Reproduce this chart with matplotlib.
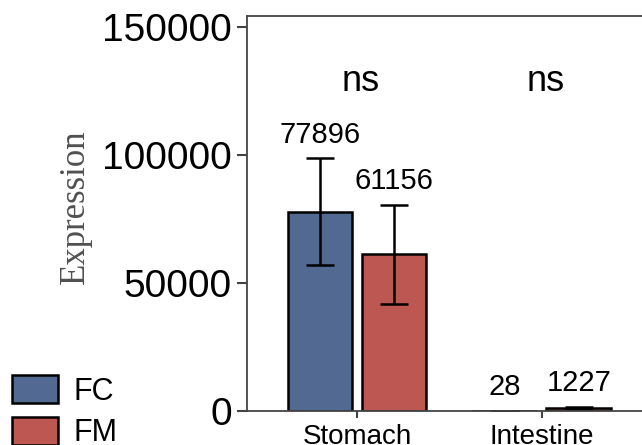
import matplotlib.pyplot as plt
import matplotlib.patches as mpatches
import numpy as np

# data
categories = ["Stomach", "Intestine"]
groups = ["FC", "FM"]
fc_means = [77896, 28]
fm_means = [61156, 1227]
fc_sd = [20800, 40]
fm_sd = [19300, 450]
sig_labels = ["ns", "ns"]

FC_COLOR = "#526a92"
FM_COLOR = "#bc5751"
SPINE_COLOR = "#444444"

plt.rcParams["font.family"] = ["Liberation Sans", "DejaVu Sans"]

fig = plt.figure(figsize=(6.42, 4.45), dpi=100)
ax = fig.add_axes([0.3847, 0.0764, 0.632, 0.888])

x = np.arange(len(categories))
width = 0.35
offset = 0.2

err_kw = dict(elinewidth=1.8, capthick=1.8, ecolor="black")
ax.bar(x - offset, fc_means, width, yerr=fc_sd, capsize=10, color=FC_COLOR,
       edgecolor="black", linewidth=1.8, error_kw=err_kw, zorder=2)
ax.bar(x + offset, fm_means, width, yerr=fm_sd, capsize=10, color=FM_COLOR,
       edgecolor="black", linewidth=1.8, error_kw=err_kw, zorder=2)

for xi, m, s in zip(x - offset, fc_means, fc_sd):
    ax.annotate(f"{m}", (xi, m + s), xytext=(0, 7), textcoords="offset points",
                ha="center", va="bottom", fontsize=21)
for xi, m, s in zip(x + offset, fm_means, fm_sd):
    ax.annotate(f"{m}", (xi, m + s), xytext=(0, 7), textcoords="offset points",
                ha="center", va="bottom", fontsize=21)

for xi, lab in zip(x, sig_labels):
    ax.text(xi + 0.02, 128500, lab, ha="center", va="center", fontsize=26)

ax.set_xlim(-0.595, 1.6)
ax.set_ylim(0, 154300)
ax.set_yticks([0, 50000, 100000, 150000])
ax.set_xticks(x)
ax.set_xticklabels(categories, fontsize=20)
ax.tick_params(axis="y", labelsize=28, length=7, width=1.5, color=SPINE_COLOR, pad=4)
ax.tick_params(axis="x", length=5, width=1.5, color=SPINE_COLOR, pad=4)

for side in ["left", "bottom", "top"]:
    ax.spines[side].set_color(SPINE_COLOR)
    ax.spines[side].set_linewidth(1.3)
ax.spines["right"].set_visible(False)

fig.text(0.117, 0.535, "Expression", rotation=90, ha="center", va="center",
         fontsize=25, color="#505050", family=["Liberation Serif", "DejaVu Serif"])

handles = [mpatches.Patch(facecolor=FC_COLOR, edgecolor="black", linewidth=1.8, label="FC"),
           mpatches.Patch(facecolor=FM_COLOR, edgecolor="black", linewidth=1.8, label="FM")]
fig.legend(handles=handles, loc="lower left", bbox_to_anchor=(0.0, -0.035), frameon=False,
           fontsize=22, handlelength=1.5, handleheight=1.0, handletextpad=0.5,
           labelspacing=0.35, borderaxespad=0.0)

fig.savefig("out.png", dpi=100)
